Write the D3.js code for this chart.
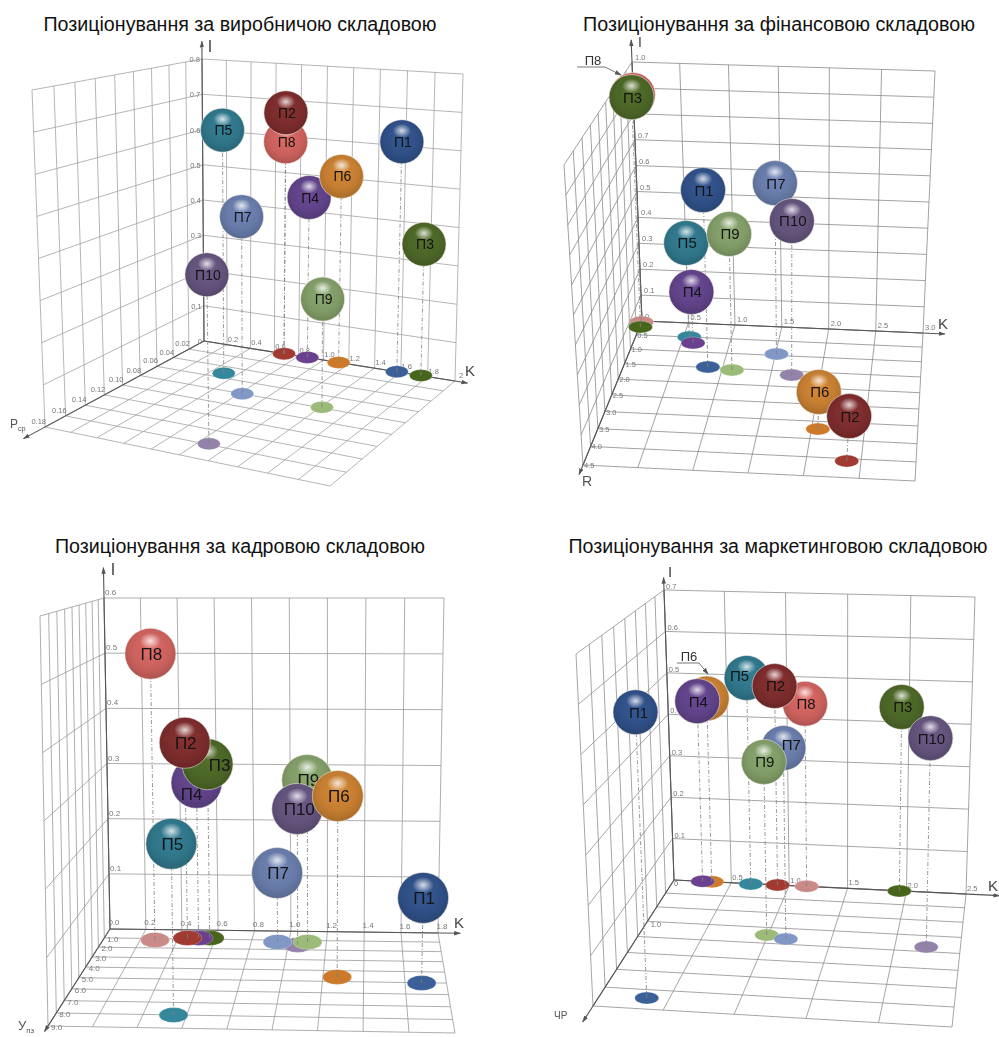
<!DOCTYPE html>
<html>
<head>
<meta charset="utf-8">
<script src="https://cdn.jsdelivr.net/npm/d3@7"></script>
<style>
  body { margin: 0; background: #fff; }
  text { font-family: "Liberation Sans", Arial, sans-serif; }
</style>
</head>
<body>
<div id="viz"></div>
<script>
// enterprises, same order in every value list below
var labels = ["П1","П2","П3","П4","П5","П6","П7","П8","П9","П10"];

// production panel
var prodK = [1.57,0.68,1.75,0.87,0.50,1.12,0.82,0.68,1.41,1.07];
var prodR = [0,0,0,0,0.052,0,0.080,0,0.079,0.159];
var prodI = [0.611,0.665,0.346,0.438,0.643,0.504,0.449,0.585,0.267,0.389];
var prodKTicks = ["0.2","0.4","0.6","0.8","1.0","1.2","1.4","1.6","1.8","2"];
var prodRTicks = ["0.02","0.04","0.06","0.08","0.10","0.12","0.14","0.16","0.18"];
var prodITicks = ["0","0.1","0.3","0.4","0.5","0.6","0.7","0.8"]; // 0.2 sits behind П10 in the picture

// finance panel
var finK = [0.85,2.37,0.01,0.62,0.56,2.06,1.51,0,1.10,1.71];
var finR = [1.483,4.063,0.221,0.701,0.498,3.220,0.953,0.036,1.546,1.622];
var finI = [0.648,0.153,0.881,0.192,0.356,0.129,0.636,0.875,0.497,0.561];
var finKTicks = ["0.5","1.0","1.5","2.0","2.5","3.0"];
var finRTicks = ["0.5","1.0","1.5","2.0","2.5","3.0","3.5","4.0","4.5"];
var finITicks = ["0","0.1","0.2","0.3","0.4","0.5","0.6","0.7","0.8","1.0"];

// staff panel
var staffK = [1.68,0.45,0.57,0.51,0.54,1.27,0.94,0.28,1.10,1.05];
var staffR = [5.024,0.897,0.868,0.883,8.007,4.593,1.208,1.160,1.167,1.499];
var staffI = [0.136,0.346,0.308,0.275,0.256,0.293,0.121,0.505,0.284,0.237];
var staffKTicks = ["0.0","0.2","0.4","0.6","0.8","1.0","1.2","1.4","1.6","1.8"];
var staffRTicks = ["1.0","2.0","3.0","4.0","5.0","6.0","7.0","8.0","9.0"];
var staffITicks = ["0.1","0.2","0.3","0.4","0.5","0.6"];

// marketing panel
var mktK = [0.34,0.90,1.94,0.25,0.67,0.33,1.15,1.15,0.99,2.24];
var mktR = [1.860,0,0.004,0,0.006,0,0.918,0,0.871,0.929];
var mktI = [0.575,0.476,0.436,0.434,0.494,0.441,0.419,0.436,0.382,0.453];
var mktKTicks = ["0.5","1.0","1.5","2.0","2.5"];
var mktRTicks = ["1.0"];
var mktITicks = ["0.1","0.2","0.3","0.4","0.5","0.6","0.7"];

var ballColors = ["#2f4f85","#7a2c2c","#4b6527","#5f4287","#2f7488","#c27c30","#6679a6","#c9605c","#7f9a66","#62527a"];
var diskColors = ["#3a6098","#a13a30","#47661f","#6a3f8f","#35889c","#cc7a2a","#8197c5","#c98a88","#9cbb79","#9383ab"];

var panels = [
  { title: "Позиціонування за виробничою складовою", titleX: 240, titleY: 31, titleW: 393,
    k: prodK, r: prodR, i: prodI, kTicks: prodKTicks, rTicks: prodRTicks, iTicks: prodITicks,
    kMax: 2, rMax: 0.18, iMax: 0.8, kStep: 0.2, rStep: 0.02, iStep: 0.1,
    kExt: 2.09, rExt: 0.2, iExt: 0.85,
    floor: [[204,341],[455,381],[330,486],[45,427]], top: [[202,59],[463,74],[329,111],[32,90]],
    order: ["П10","П9","П7","П3","П1","П5","П8","П2","П4","П6"],
    diskOrder: ["П8","П2","П4","П6","П5","П7","П9","П10","П3","П1"],
    ballR: 22, diskRx: 11.5, diskRy: 6, fs: 14, gridColor: "#a2a2a2", tickSize: 7.5,
    iTick: {anchor: "end", dx: -2, dy: 3}, kTick: {anchor: "middle", dx: 6, dy: -3}, rTick: {anchor: "end", dx: 1, dy: -3},
    kLabel: [470,376,15], iLabel: [210,52,16], rLabel: ["Р","ср",10,428,12] },
  { title: "Позиціонування за фінансовою складовою", titleX: 779, titleY: 31, titleW: 392,
    k: finK, r: finR, i: finI, kTicks: finKTicks, rTicks: finRTicks, iTicks: finITicks,
    kMax: 3, rMax: 4.5, iMax: 1, kStep: 0.5, rStep: 0.5, iStep: 0.1,
    kExt: 3.23, rExt: 4.75, iExt: 1.085,
    floor: [[642,321],[923,333],[915,481],[583,465]], top: [[632,62],[935,71],[948,186],[564,165]],
    order: ["П8","П3","П7","П10","П1","П5","П9","П4","П6","П2"],
    diskOrder: ["П8","П3","П5","П4","П7","П10","П1","П9","П6","П2"],
    ballR: 22.5, diskRx: 12, diskRy: 6, fs: 15, gridColor: "#8a8a8a", tickSize: 7.5,
    iTick: {anchor: "start", dx: 3, dy: -2}, kTick: {anchor: "start", dx: 2, dy: -3}, rTick: {anchor: "start", dx: 1, dy: 3},
    kLabel: [943,329,15], iLabel: [640,47,14], rLabel: ["R","",582,486,14],
    leader: {text: "П8", x: 593, y: 66, line: [[577,67],[605,67],[621,75]]} },
  { title: "Позиціонування за кадровою складовою", titleX: 240, titleY: 553, titleW: 370,
    k: staffK, r: staffR, i: staffI, kTicks: staffKTicks, rTicks: staffRTicks, iTicks: staffITicks,
    kMax: 1.8, rMax: 9, iMax: 0.6, kStep: 0.2, rStep: 1, iStep: 0.1,
    kExt: 1.92, rExt: 9.4, iExt: 0.655,
    floor: [[110,929],[438,933],[455,1033],[48,1026]], top: [[104,598],[444,598],[466,617],[40,616]],
    order: ["П8","П4","П3","П2","П5","П9","П10","П6","П7","П1"],
    diskOrder: ["П8","П3","П4","П2","П10","П9","П7","П6","П1","П5"],
    ballR: 25.5, diskRx: 14.5, diskRy: 7.5, fs: 17, gridColor: "#999", tickSize: 8,
    iTick: {anchor: "start", dx: 1, dy: -3}, kTick: {anchor: "middle", dx: 4, dy: -4}, rTick: {anchor: "start", dx: 3, dy: 4},
    kLabel: [459,928,15], iLabel: [113,575,16], rLabel: ["У","пз",18,1030,13],
    shift: {"П3": [12,1], "П4": [-5,11], "П5": [1,0], "П10": [2,0]} },
  { title: "Позиціонування за маркетинговою складовою", titleX: 778, titleY: 553, titleW: 419,
    k: mktK, r: mktR, i: mktI, kTicks: mktKTicks, rTicks: mktRTicks, iTicks: mktITicks,
    kMax: 2.5, rMax: 2, iMax: 0.7, kStep: 0.5, rStep: 0.25, iStep: 0.1,
    kExt: 2.78, rExt: 2.2, iExt: 0.73,
    floor: [[674,880],[966,894],[952,1027],[593,1006]], top: [[664,590],[975,597],[962,666],[576,654]],
    order: ["П6","П4","П5","П8","П2","П7","П9","П3","П10","П1"],
    diskOrder: ["П6","П4","П5","П8","П2","П9","П7","П3","П10","П1"],
    ballR: 22.5, diskRx: 12, diskRy: 6, fs: 15, gridColor: "#8f8f8f", tickSize: 7.5,
    iTick: {anchor: "start", dx: 2, dy: -1}, kTick: {anchor: "start", dx: 1, dy: -3}, rTick: {anchor: "start", dx: 13, dy: -9},
    kLabel: [993,891,15], iLabel: [670,577,15], rLabel: ["ЧР","",554,1019,10],
    zero: [676,886],
    shift: {"П5": [-7,-2], "П7": [8,-3], "П1": [3,0]},
    leader: {text: "П6", x: 689, y: 662, line: [[677,663],[699,663],[708,674]]} }
];

var width = 999, height = 1037;
var svg = d3.select("#viz").append("svg").attr("width", width).attr("height", height);
var defs = svg.append("defs");

defs.append("filter").attr("id", "soft")
  .attr("x", 0).attr("y", 0).attr("width", width).attr("height", height).attr("filterUnits", "userSpaceOnUse")
  .append("feGaussianBlur").attr("stdDeviation", 0.45);

// one shaded fill per enterprise, plus the shared highlight
ballColors.forEach(function(c, n) {
  var g = defs.append("radialGradient").attr("id", "ball" + n).attr("cx", "50%").attr("cy", "42%").attr("r", "58%");
  g.append("stop").attr("offset", "0%").attr("stop-color", d3.color(c).brighter(0.3));
  g.append("stop").attr("offset", "65%").attr("stop-color", c);
  g.append("stop").attr("offset", "100%").attr("stop-color", d3.color(c).darker(0.4));
});
var hl = defs.append("radialGradient").attr("id", "hl");
hl.append("stop").attr("offset", "0%").attr("stop-color", "#fff").attr("stop-opacity", 0.8);
hl.append("stop").attr("offset", "100%").attr("stop-color", "#fff").attr("stop-opacity", 0);

defs.append("marker").attr("id", "arrow").attr("viewBox", "0 0 8 8").attr("refX", 7).attr("refY", 4)
  .attr("markerWidth", 7).attr("markerHeight", 7).attr("markerUnits", "userSpaceOnUse").attr("orient", "auto")
  .append("path").attr("d", "M0,1.5L8,4L0,6.5Z").attr("fill", "#555");

// unit square -> four image corners
function homography(q) {
  var x0 = q[0][0], y0 = q[0][1], x1 = q[1][0], y1 = q[1][1], x2 = q[2][0], y2 = q[2][1], x3 = q[3][0], y3 = q[3][1];
  var dx1 = x1 - x2, dx2 = x3 - x2, sx = x0 - x1 + x2 - x3;
  var dy1 = y1 - y2, dy2 = y3 - y2, sy = y0 - y1 + y2 - y3;
  var den = dx1 * dy2 - dx2 * dy1;
  var g = (sx * dy2 - dx2 * sy) / den, h = (dx1 * sy - sx * dy1) / den;
  return function(u, v) {
    var w = g * u + h * v + 1;
    return [((x1 - x0 + g * x1) * u + (x3 - x0 + h * x3) * v + x0) / w,
            ((y1 - y0 + g * y1) * u + (y3 - y0 + h * y3) * v + y0) / w];
  };
}

var line = d3.line();

function drawPanel(p) {
  var root = svg.append("g");

  root.append("text").attr("x", p.titleX).attr("y", p.titleY).attr("text-anchor", "middle")
    .attr("textLength", p.titleW).attr("lengthAdjust", "spacingAndGlyphs")
    .attr("font-size", 20).attr("fill", "#111").text(p.title);

  var chart = root.append("g").attr("filter", "url(#soft)");

  var xs = d3.scaleLinear().domain([0, p.kMax]).range([0, 1]);
  var ys = d3.scaleLinear().domain([0, p.rMax]).range([0, 1]);
  var zs = d3.scaleLinear().domain([0, p.iMax]).range([0, 1]);
  var floorH = homography(p.floor), topH = homography(p.top);

  function project(k, r, i) {
    var f = floorH(xs(k), ys(r)), t = topH(xs(k), ys(r)), h = zs(i);
    return [f[0] + h * (t[0] - f[0]), f[1] + h * (t[1] - f[1])];
  }

  var kGrid = d3.range(Math.round(p.kMax / p.kStep) + 1).map(function(d) { return d * p.kStep; });
  var rGrid = d3.range(Math.round(p.rMax / p.rStep) + 1).map(function(d) { return d * p.rStep; });
  var iGrid = d3.range(Math.round(p.iMax / p.iStep) + 1).map(function(d) { return d * p.iStep; });

  var segs = [];
  kGrid.forEach(function(k) {
    segs.push([project(k, 0, 0), project(k, 0, p.iMax)]);
    segs.push([project(k, 0, 0), project(k, p.rMax, 0)]);
  });
  rGrid.forEach(function(r) {
    segs.push([project(0, r, 0), project(0, r, p.iMax)]);
    segs.push([project(0, r, 0), project(p.kMax, r, 0)]);
  });
  iGrid.forEach(function(i) {
    segs.push([project(0, 0, i), project(p.kMax, 0, i)]);
    segs.push([project(0, 0, i), project(0, p.rMax, i)]);
  });

  chart.append("g").selectAll("path").data(segs).enter().append("path")
    .attr("d", line).attr("fill", "none").attr("stroke", p.gridColor).attr("stroke-width", 0.8);

  // the three axes
  var axes = [[project(0, 0, 0), project(0, 0, p.iExt)],
              [project(0, 0, 0), project(p.kExt, 0, 0)],
              [project(0, 0, 0), project(0, p.rExt, 0)]];
  chart.append("g").selectAll("path").data(axes).enter().append("path")
    .attr("d", line).attr("fill", "none").attr("stroke", "#555").attr("stroke-width", 1.1)
    .attr("marker-end", "url(#arrow)");

  function ticks(list, pos, o) {
    chart.append("g").selectAll("text").data(list).enter().append("text")
      .attr("x", function(d) { return pos(+d)[0] + o.dx; })
      .attr("y", function(d) { return pos(+d)[1] + o.dy; })
      .attr("text-anchor", o.anchor).attr("font-size", p.tickSize).attr("fill", "#777")
      .text(function(d) { return d; });
  }
  ticks(p.iTicks, function(d) { return project(0, 0, d); }, p.iTick);
  ticks(p.kTicks, function(d) { return project(d, 0, 0); }, p.kTick);
  ticks(p.rTicks, function(d) { return project(0, d, 0); }, p.rTick);
  if (p.zero) chart.append("text").attr("x", p.zero[0]).attr("y", p.zero[1])
    .attr("text-anchor", "middle").attr("font-size", p.tickSize).attr("fill", "#777").text("0");

  chart.append("text").attr("x", p.kLabel[0]).attr("y", p.kLabel[1]).attr("text-anchor", "middle")
    .attr("font-size", p.kLabel[2]).attr("fill", "#444").text("K");
  chart.append("text").attr("x", p.iLabel[0]).attr("y", p.iLabel[1]).attr("text-anchor", "middle")
    .attr("font-size", p.iLabel[2]).attr("fill", "#444").text("I");
  var rl = chart.append("text").attr("x", p.rLabel[2]).attr("y", p.rLabel[3])
    .attr("font-size", p.rLabel[4]).attr("fill", "#555");
  rl.append("tspan").text(p.rLabel[0]);
  if (p.rLabel[1]) rl.append("tspan").attr("dy", 3).attr("font-size", p.rLabel[4] * 0.6).text(p.rLabel[1]);

  function point(name) {
    var n = labels.indexOf(name);
    return { name: name, n: n, base: project(p.k[n], p.r[n], 0), pos: project(p.k[n], p.r[n], p.i[n]) };
  }
  // back-to-front order
  var data = p.order.map(point);
  var disks = p.diskOrder.map(point);

  chart.append("g").selectAll("ellipse").data(disks).enter().append("ellipse")
    .attr("cx", function(d) { return d.base[0]; }).attr("cy", function(d) { return d.base[1]; })
    .attr("rx", p.diskRx).attr("ry", p.diskRy)
    .attr("fill", function(d) { return diskColors[d.n]; })
    .attr("stroke", "#fff").attr("stroke-opacity", 0.4).attr("stroke-width", 0.6);

  chart.append("g").selectAll("path").data(data).enter().append("path")
    .attr("d", function(d) { return line([d.base, d.pos]); })
    .attr("fill", "none").attr("stroke", "#808080").attr("stroke-width", 0.8).attr("stroke-dasharray", "4 2 1 2");

  var balls = chart.append("g").selectAll("g").data(data).enter().append("g")
    .attr("transform", function(d) { return "translate(" + d.pos[0] + "," + d.pos[1] + ")"; });
  balls.append("circle").attr("r", p.ballR)
    .attr("fill", function(d) { return "url(#ball" + d.n + ")"; })
    .attr("stroke", "#efe9e2").attr("stroke-opacity", 0.7).attr("stroke-width", 0.8);
  balls.append("ellipse").attr("cy", -p.ballR * 0.5).attr("rx", p.ballR * 0.42).attr("ry", p.ballR * 0.32)
    .attr("fill", "url(#hl)");
  // a ball named by a leader carries no label of its own
  balls.filter(function(d) { return !(p.leader && p.leader.text === d.name); })
    .append("text").attr("text-anchor", "middle").attr("fill", "#141414").attr("font-size", p.fs)
    .attr("x", function(d) { return (p.shift && p.shift[d.name] ? p.shift[d.name][0] : 1); })
    .attr("y", function(d) { return p.fs * 0.36 + (p.shift && p.shift[d.name] ? p.shift[d.name][1] : 0); })
    .text(function(d) { return d.name; });

  // leader for a ball that is hidden behind another
  if (p.leader) {
    chart.append("text").attr("x", p.leader.x).attr("y", p.leader.y).attr("text-anchor", "middle")
      .attr("font-size", 13).attr("dy", -1).attr("fill", "#333").text(p.leader.text);
    chart.append("path").attr("d", line(p.leader.line)).attr("fill", "none")
      .attr("stroke", "#555").attr("stroke-width", 0.8).attr("marker-end", "url(#arrow)");
  }
}

panels.forEach(drawPanel);
</script>
</body>
</html>
